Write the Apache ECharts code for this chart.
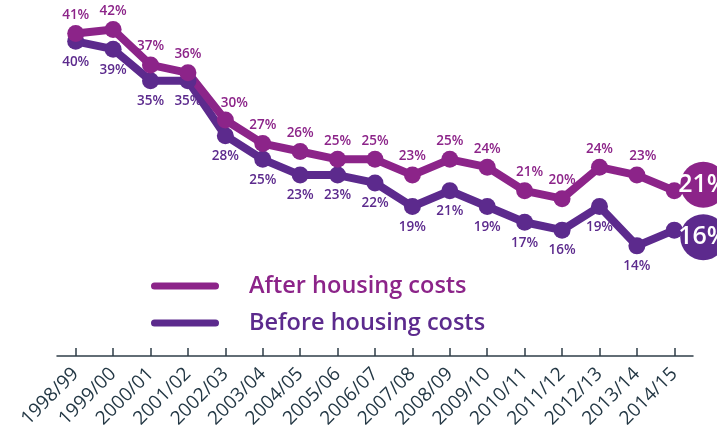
<!DOCTYPE html>
<html>
<head>
<meta charset="utf-8">
<script src="https://cdn.jsdelivr.net/npm/echarts@6/dist/echarts.min.js"></script>
<style>
  html, body { margin: 0; padding: 0; background: #fff; }
  #chart { width: 717px; height: 425px; }
</style>
</head>
<body>
<div id="chart"></div>
<script>
// years on the x axis
const years = ['1998/99', '1999/00', '2000/01', '2001/02', '2002/03', '2003/04', '2004/05', '2005/06',
  '2006/07', '2007/08', '2008/09', '2009/10', '2010/11', '2011/12', '2012/13', '2013/14', '2014/15']
// after housing costs (%), 1999/00 sits level with 1998/99 in the picture but reads 42%
const afterHousing = [41, 41.5, 37, 36, 30, 27, 26, 25, 25, 23, 25, 24, 21, 20, 24, 23, 21]
// before housing costs (%)
const beforeHousing = [40, 39, 35, 35, 28, 25, 23, 23, 22, 19, 21, 19, 17, 16, 19, 14, 16]

const AHC = '#8c2489'
const BHC = '#5c2a8d'
const AXIS = '#2f3e48'
const capsule = 'path://M3.5,0 L64.5,0 A3.5,3.5 0 0 1 64.5,7 L3.5,7 A3.5,3.5 0 0 1 3.5,0 Z'
// a few labels sit off to the right in the original so they clear the line
const nudges = { 4: [9, 2], 12: [5, 0], 15: [6, 0] }

function lineSeries(name, data, color, pos, endOffset, shifts) {
  const last = data.length - 1
  return {
    name,
    type: 'line',
    data: data.map((v, i) => shifts[i] ? { value: v, label: { offset: shifts[i] } } : v),
    lineStyle: { width: 8, color },
    itemStyle: { color },
    symbol: 'circle',
    symbolSize: 17,
    showAllSymbol: true,
    label: {
      show: true,
      position: pos,
      distance: pos === 'top' ? 3 : 5,
      color,
      fontFamily: 'Open Sans',
      fontWeight: 600,
      fontSize: 13.5,
      // the last year is shown in the big circle instead
      formatter: (p) => p.dataIndex === last ? '' : Math.round(p.value) + '%'
    },
    markPoint: {
      symbol: 'circle',
      symbolSize: 46,
      symbolOffset: endOffset,
      itemStyle: { color },
      label: {
        show: true,
        position: 'inside',
        color: '#fff',
        fontFamily: 'Open Sans',
        fontWeight: 600,
        fontSize: 25,
        formatter: (p) => p.value + '%'
      },
      data: [{ coord: [last, data[last]], value: data[last] }]
    }
  }
}

const chart = echarts.init(document.getElementById('chart'))
chart.setOption({
  animation: false,
  grid: { left: 57, right: 24, top: 2, bottom: 69, outerBoundsMode: 'none' },
  legend: {
    orient: 'vertical',
    left: 146,
    top: 267,
    itemWidth: 68,
    itemHeight: 7,
    itemGap: 9,
    icon: capsule,
    selectedMode: false,
    textStyle: { fontFamily: 'Open Sans', fontWeight: 600, fontSize: 23.5, lineHeight: 28, padding: [0, 0, 0, 25] },
    data: [
      { name: 'After housing costs', itemStyle: { color: AHC }, textStyle: { color: AHC } },
      { name: 'Before housing costs', itemStyle: { color: BHC }, textStyle: { color: BHC } }
    ]
  },
  xAxis: {
    type: 'category',
    data: years,
    boundaryGap: true,
    axisLine: { show: true, lineStyle: { color: AXIS, width: 1.5 } },
    axisTick: { show: true, alignWithLabel: true, inside: true, length: 8, lineStyle: { color: AXIS, width: 1.5 } },
    axisLabel: {
      interval: 0,
      rotate: 45,
      margin: 15,
      color: '#243845',
      fontFamily: 'Open Sans',
      fontSize: 19
    }
  },
  yAxis: { type: 'value', min: 0, max: 45, show: false },
  series: [
    lineSeries('Before housing costs', beforeHousing, BHC, 'bottom', [29, 7], {}),
    lineSeries('After housing costs', afterHousing, AHC, 'top', [29, -6], nudges)
  ]
})
</script>
</body>
</html>
